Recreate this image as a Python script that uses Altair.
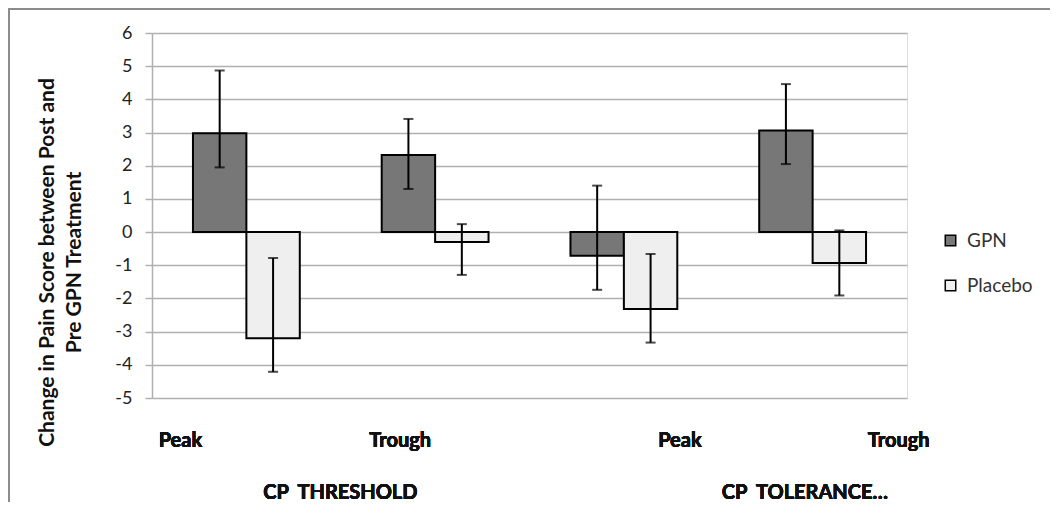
import altair as alt
import pandas as pd

# ---- data ----
groups = ["CP THRESHOLD", "CP THRESHOLD", "CP TOLERANCE", "CP TOLERANCE"]
times = ["Peak", "Trough", "Peak", "Trough"]
series = ["GPN", "Placebo"]

gpn_mean = [2.98, 2.32, -0.71, 3.06]
gpn_low = [1.95, 1.30, -1.74, 2.05]
gpn_high = [4.87, 3.41, 1.40, 4.46]

pla_mean = [-3.20, -0.30, -2.32, -0.93]
pla_low = [-4.21, -1.29, -3.33, -1.91]
pla_high = [-0.78, 0.24, -0.66, 0.05]

y_ticks = [-5, -4, -3, -2, -1, 0, 1, 2, 3, 4, 5, 6]

keys = [f"{g} | {t}" for g, t in zip(groups, times)]

rows = []
for i, k in enumerate(keys):
    rows.append(dict(key=k, series="GPN", mean=gpn_mean[i], lo=gpn_low[i], hi=gpn_high[i]))
    rows.append(dict(key=k, series="Placebo", mean=pla_mean[i], lo=pla_low[i], hi=pla_high[i]))
df = pd.DataFrame(rows)

FONT = "Lato"
GRID = "#b0b0b0"
W, H = 755, 365

x_scale = alt.Scale(domain=keys, paddingInner=0.434, paddingOuter=0.217)
x_enc = alt.X("key:N", sort=keys, axis=None, scale=x_scale)
xo_enc = alt.XOffset("series:N", sort=series,
                     scale=alt.Scale(paddingInner=0, paddingOuter=0))
y_scale = alt.Scale(domain=[-5, 6], nice=False, zero=False)

base = alt.Chart(df)

bars = base.mark_bar(stroke="black", strokeWidth=2).encode(
    x=x_enc,
    xOffset=xo_enc,
    y=alt.Y("mean:Q", scale=y_scale,
            axis=alt.Axis(values=y_ticks, tickCount=len(y_ticks), grid=True,
                          gridColor=GRID, gridWidth=1.5,
                          domainColor=GRID, domainWidth=1.5, tickColor=GRID, tickWidth=1.5,
                          tickSize=7, labelPadding=13, labelFontSize=18, labelFont=FONT,
                          labelColor="#222222",
                          labelExpr="datum.value < 0 ? '-' + abs(datum.value) : '' + datum.value",
                          title=["Change in Pain Score between Post and", "Pre GPN Treatment"],
                          titleFont=FONT, titleFontSize=21, titleFontWeight="bold",
                          titleColor="#111111", titleLineHeight=27,
                          titleAnchor="middle", titleY=229, titleX=-95)),
    y2=alt.Y2(datum=0),
    fill=alt.Fill("series:N", sort=series,
                  scale=alt.Scale(domain=series, range=["#777777", "#efefef"]),
                  legend=alt.Legend(title=None, orient="none", legendX=789, legendY=198,
                                    symbolType="square", symbolSize=110,
                                    symbolStrokeColor="black", symbolStrokeWidth=1.5,
                                    labelFont=FONT, labelFontSize=19, labelColor="#333333",
                                    labelOffset=7, rowPadding=25)),
)

err = base.mark_rule(color="black", strokeWidth=2).encode(
    x=x_enc, xOffset=xo_enc, y=alt.Y("lo:Q", scale=y_scale), y2="hi:Q"
)
cap_lo = base.mark_tick(color="black", thickness=2, size=10).encode(
    x=x_enc, xOffset=xo_enc, y=alt.Y("lo:Q", scale=y_scale)
)
cap_hi = base.mark_tick(color="black", thickness=2, size=10).encode(
    x=x_enc, xOffset=xo_enc, y=alt.Y("hi:Q", scale=y_scale)
)

# category labels (placed as in the reference, offset from their category)
label_dx = [-66, -35, 56, 86]
text_layers = []
for k, t, dx in zip(keys, times, label_dx):
    text_layers.append(
        alt.Chart().mark_text(dx=dx, font=FONT, fontSize=20, fontWeight="bold",
                              color="#111111", baseline="alphabetic")
        .encode(x=alt.X(datum=k, type="nominal", axis=None, scale=x_scale),
                y=alt.value(H + 49), text=alt.value(t))
    )
group_labels = ["CP\u00a0\u00a0THRESHOLD", "CP\u00a0\u00a0TOLERANCE\u2026"]
group_anchor = [keys[0], keys[2]]
group_dx = [94, 181]
for k, t, dx in zip(group_anchor, group_labels, group_dx):
    text_layers.append(
        alt.Chart().mark_text(dx=dx, font=FONT, fontSize=20, fontWeight="bold",
                              color="#111111", baseline="alphabetic")
        .encode(x=alt.X(datum=k, type="nominal", axis=None, scale=x_scale),
                y=alt.value(H + 101), text=alt.value(t))
    )

border = alt.Chart().mark_rect(fill="transparent", stroke="#8c8c8c", strokeWidth=2).encode(
    x=alt.value(-143), x2=alt.value(W + 200), y=alt.value(-24), y2=alt.value(H + 200)
)

chart = alt.layer(border, bars, err, cap_lo, cap_hi, *text_layers, data=df).properties(
    width=W, height=H,
    autosize=alt.AutoSizeParams(type="none"),
    padding={"left": 144, "top": 25, "right": 143, "bottom": 104},
).configure_view(stroke=None).configure(background="white")

chart.save("out.html", embed_options={"renderer": "svg", "actions": False})
